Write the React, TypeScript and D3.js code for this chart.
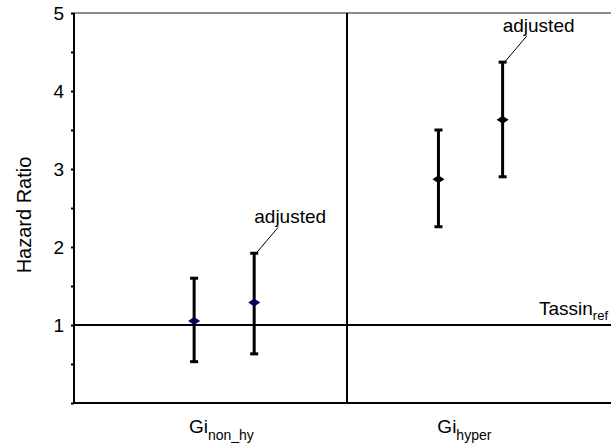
import React, { useEffect, useRef } from 'react';
import * as d3 from 'd3';

// group labels (main text + subscript) and where they sit on the group axis
const groupMain = ['Gi', 'Gi'];
const groupSub = ['non_hy', 'hyper'];
const groupLabelX = [1.08, 2.86];

// estimates: x value on the group axis (0..4), hazard ratio, 95% CI
const pointX = [0.88, 1.32, 2.67, 3.14];
const hazard = [1.05, 1.29, 2.87, 3.63];
const lower = [0.53, 0.63, 2.26, 2.9];
const upper = [1.6, 1.92, 3.5, 4.37];
const adjusted = [false, true, false, true];

const yTicks = [0, 0.5, 1, 1.5, 2, 2.5, 3, 3.5, 4, 4.5, 5];
const yLabels = [1, 2, 3, 4, 5];
const refValue = 1;

const App = () => {
  const svgRef = useRef(null);

  useEffect(() => {
    const width = 611;
    const height = 446;
    const margin = { top: 13, right: -9, bottom: 43, left: 74 };
    const font = 'Arial, "Liberation Sans", sans-serif';

    const svg = d3.select(svgRef.current);
    svg.selectAll('*').remove();
    svg.attr('width', width).attr('height', height);

    const x = d3.scaleLinear().domain([0, 4]).range([margin.left, width - margin.right]);
    const y = d3.scaleLinear().domain([0, 5]).range([height - margin.bottom, margin.top]);

    // top border
    svg.append('line')
      .attr('x1', x(0)).attr('x2', width)
      .attr('y1', y(5)).attr('y2', y(5))
      .attr('stroke', '#666').attr('stroke-width', 1.5);

    // y axis
    const yAxis = svg.append('g')
      .attr('transform', `translate(${x(0)},0)`)
      .call(d3.axisLeft(y).tickValues(yTicks).tickSize(3).tickFormat(''));
    yAxis.select('.domain').remove();
    yAxis.selectAll('.tick line').attr('stroke', '#000').attr('stroke-width', 2);
    svg.append('line')
      .attr('x1', x(0)).attr('x2', x(0))
      .attr('y1', y(5)).attr('y2', y(0) + 1)
      .attr('stroke', '#000').attr('stroke-width', 2);

    svg.selectAll('.ylab')
      .data(yLabels)
      .enter()
      .append('text')
      .attr('class', 'ylab')
      .attr('x', x(0) - 10)
      .attr('y', d => y(d) + 7)
      .attr('text-anchor', 'end')
      .attr('font-family', font)
      .attr('font-size', 19)
      .text(d => d);

    svg.append('text')
      .attr('transform', `translate(31,215) rotate(-90)`)
      .attr('text-anchor', 'middle')
      .attr('font-family', font)
      .attr('font-size', 20)
      .text('Hazard Ratio');

    // x axis, divider, reference line
    svg.append('line')
      .attr('x1', x(0)).attr('x2', width)
      .attr('y1', y(0)).attr('y2', y(0))
      .attr('stroke', '#000').attr('stroke-width', 2);
    svg.append('line')
      .attr('x1', x(2)).attr('x2', x(2))
      .attr('y1', y(5)).attr('y2', y(0))
      .attr('stroke', '#000').attr('stroke-width', 2);
    svg.append('line')
      .attr('x1', x(0)).attr('x2', width)
      .attr('y1', y(refValue)).attr('y2', y(refValue))
      .attr('stroke', '#000').attr('stroke-width', 2);

    const ref = svg.append('text')
      .attr('x', width - 3)
      .attr('y', y(refValue) - 10)
      .attr('text-anchor', 'end')
      .attr('font-family', font)
      .attr('font-size', 19);
    ref.append('tspan').text('Tassin');
    ref.append('tspan').attr('font-size', 13).attr('dy', 5).text('ref');

    // group labels
    groupMain.forEach((g, i) => {
      const t = svg.append('text')
        .attr('x', x(groupLabelX[i]))
        .attr('y', y(0) + 30)
        .attr('text-anchor', 'middle')
        .attr('font-family', font)
        .attr('font-size', 19);
      t.append('tspan').text(g);
      t.append('tspan').attr('font-size', 14).attr('dy', 7).text(groupSub[i]);
    });

    // error bars
    const bars = svg.selectAll('.bar')
      .data(hazard)
      .enter()
      .append('g')
      .attr('class', 'bar');
    bars.append('line')
      .attr('x1', (d, i) => x(pointX[i])).attr('x2', (d, i) => x(pointX[i]))
      .attr('y1', (d, i) => y(lower[i])).attr('y2', (d, i) => y(upper[i]))
      .attr('stroke', '#000').attr('stroke-width', 3);
    bars.append('line')
      .attr('x1', (d, i) => x(pointX[i]) - 4).attr('x2', (d, i) => x(pointX[i]) + 4)
      .attr('y1', (d, i) => y(lower[i])).attr('y2', (d, i) => y(lower[i]))
      .attr('stroke', '#000').attr('stroke-width', 3);
    bars.append('line')
      .attr('x1', (d, i) => x(pointX[i]) - 4).attr('x2', (d, i) => x(pointX[i]) + 4)
      .attr('y1', (d, i) => y(upper[i])).attr('y2', (d, i) => y(upper[i]))
      .attr('stroke', '#000').attr('stroke-width', 3);
    bars.append('path')
      .attr('d', (d, i) => {
        const cx = x(pointX[i]);
        const cy = y(d);
        return `M${cx - 6},${cy}L${cx},${cy - 4}L${cx + 6},${cy}L${cx},${cy + 4}Z`;
      })
      .attr('fill', (d, i) => (i < 2 ? '#00005a' : '#000'));

    // "adjusted" callouts
    hazard.forEach((d, i) => {
      if (!adjusted[i]) return;
      const cx = x(pointX[i]);
      const cy = y(upper[i]);
      svg.append('line')
        .attr('x1', cx + 2).attr('y1', cy)
        .attr('x2', cx + 24).attr('y2', cy - 26)
        .attr('stroke', '#000').attr('stroke-width', 1);
      svg.append('text')
        .attr('x', cx + 36)
        .attr('y', cy - 30)
        .attr('text-anchor', 'middle')
        .attr('font-family', font)
        .attr('font-size', 19)
        .text('adjusted');
    });
  }, []);

  return <svg ref={svgRef} style={{ position: 'absolute', left: 0, top: 0 }}></svg>;
};

export default App;
